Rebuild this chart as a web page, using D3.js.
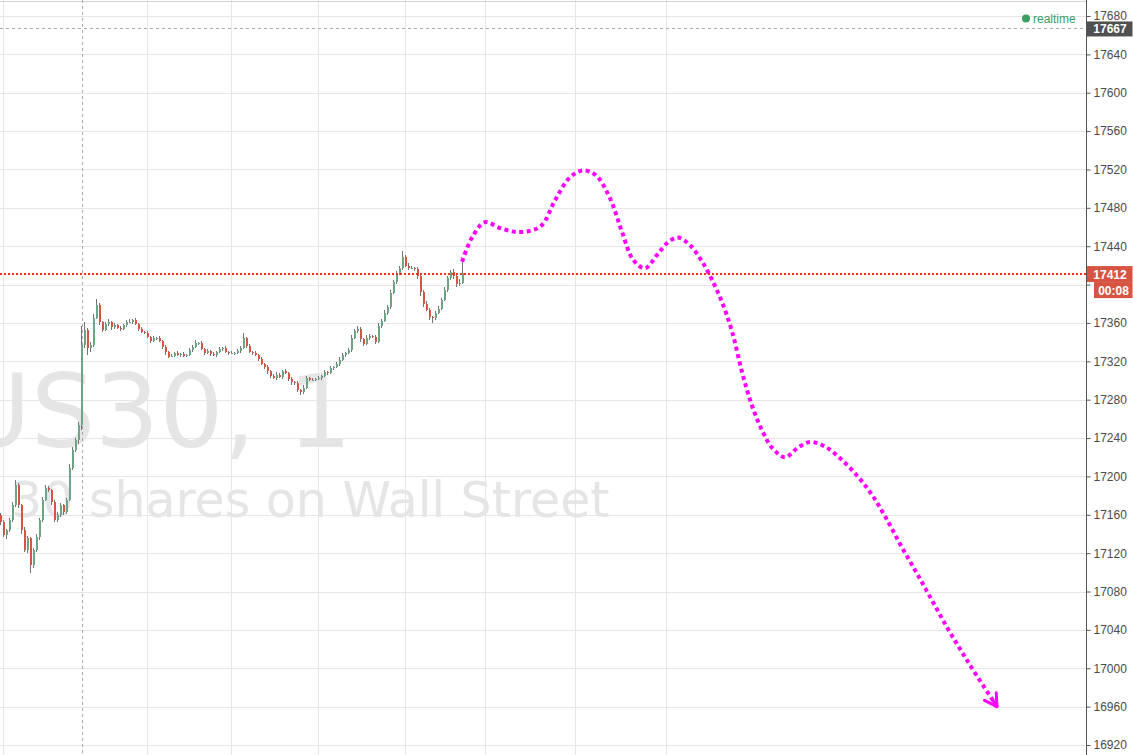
<!DOCTYPE html>
<html><head><meta charset="utf-8">
<script src="https://cdn.jsdelivr.net/npm/d3@7"></script>
<style>html,body{margin:0;padding:0;background:#fff;overflow:hidden}</style>
</head><body><svg id="c" width="1133" height="755"></svg>
<script>
// ---- data ----
const priceTicks = [17680,17640,17600,17560,17520,17480,17440,17400,17360,17320,17280,17240,17200,17160,17120,17080,17040,17000,16960,16920];
const firstOpen = 17160;
const closes = [
17152,17139,17144,17155,17170,17191,17170,17144,17123,17136,
17108,17123,17137,17155,17175,17188,17186,17173,17155,17160,
17170,17163,17175,17209,17228,17238,17254,17337,17353,17334,
17337,17365,17379,17361,17353,17359,17361,17356,17358,17355,
17354,17358,17361,17361,17363,17359,17354,17351,17350,17345,
17341,17344,17344,17341,17335,17330,17325,17326,17329,17327,
17328,17326,17327,17332,17335,17339,17339,17333,17329,17331,
17328,17327,17330,17333,17334,17330,17329,17329,17329,17331,
17334,17344,17336,17330,17329,17327,17322,17317,17314,17310,
17305,17303,17306,17304,17310,17308,17302,17298,17297,17290,
17288,17292,17303,17301,17301,17302,17303,17305,17309,17308,
17313,17314,17317,17321,17327,17329,17332,17344,17352,17354,
17343,17338,17344,17346,17345,17340,17357,17362,17370,17377,
17391,17403,17411,17417,17429,17419,17417,17417,17416,17409,
17392,17380,17374,17366,17365,17370,17375,17384,17394,17407,
17413,17409,17401,17402,17412];
const wickUp = [
2,3,1,2,3,5,2,1,3,2,
1,2,3,2,4,3,2,1,2,3,
2,1,3,4,3,2,3,20,8,2,
3,4,6,2,1,2,3,1,2,1,
2,1,2,3,1,2,1,2,1,2,
1,2,1,2,1,2,1,2,1,2,
1,2,1,2,2,3,1,2,1,2,
1,2,1,2,1,2,1,2,1,2,
2,6,1,2,1,2,1,2,1,2,
1,2,3,2,1,2,1,2,1,2,
1,3,2,1,2,1,2,1,2,1,
2,1,2,3,2,1,2,3,2,3,
2,1,3,2,1,2,3,2,3,2,
3,2,3,2,6,2,3,2,1,2,
1,2,3,2,1,2,3,2,3,2,
2,3,2,4,14];
const wickDown = [
3,2,4,2,3,2,3,4,2,3,
9,3,2,3,2,1,2,3,2,3,
2,3,2,1,2,3,4,6,3,7,
4,2,1,3,2,1,2,3,2,1,
2,1,2,1,2,1,2,1,2,1,
2,1,2,1,2,3,2,1,2,1,
2,1,2,1,2,1,2,1,2,1,
2,1,2,1,2,1,2,1,2,1,
2,1,2,1,2,1,2,1,2,3,
2,1,2,1,2,1,2,3,2,2,
3,2,1,2,1,2,1,2,1,2,
1,2,1,2,1,2,1,2,1,2,
3,2,1,2,1,2,1,2,1,2,
2,1,2,1,2,1,2,1,2,3,
4,3,2,3,5,2,1,2,1,2,
2,3,4,2,1];
// forecast path (bar index, price)
const predIdx = [153.7,157,161.3,166.3,171.3,176.3,180.3,184.7,189.7,194,198.3,203,207,210.7,214.7,218.7,222.3,225.7,229.7,233.7,237,240.3,243.7,247,250.3,253.7,257,261.3,265.7,269.7,274.7,279.7,285.3,290.3,295.3,300.3,305.3,310.3,315.3,320.3,325.3,332];
const predPrice = [17424,17449,17465,17459,17455,17456,17462,17488,17512,17519,17514,17490,17455,17426,17417,17431,17444,17449,17441,17424,17405,17382,17351,17309,17274,17248,17230,17220,17230,17236,17231,17219,17201,17181,17155,17126,17099,17071,17043,17017,16992,16960];
const vGridIdx = [0.67,48.7,76.7,105.7,134.7,161.3,191.3,221.7];
const crossIdx = 27;
const crossPrice = 17667;
const lastPrice = 17412;
const countdown = "00:08";
const symbolText = "US30, 1";
const descText = "30 shares on Wall Street";

// ---- chart ----
const W = 1133, H = 755, axisX = 1086;
const svg = d3.select("#c");
const y = d3.scaleLinear().domain([16920, 17680]).range([745, 16]);
const x = d3.scaleLinear().domain([0, 361]).range([1, 1084]);

svg.append("rect").attr("width", W).attr("height", H).attr("fill", "#fff");

const grid = svg.append("g").attr("shape-rendering", "crispEdges");
grid.selectAll(".hg").data(priceTicks).join("line")
  .attr("x1", 0).attr("x2", axisX)
  .attr("y1", d => Math.round(y(d)) + 0.5).attr("y2", d => Math.round(y(d)) + 0.5)
  .attr("stroke", "#e6e6e6");
grid.selectAll(".vg").data(vGridIdx).join("line")
  .attr("x1", d => Math.round(x(d)) + 0.5).attr("x2", d => Math.round(x(d)) + 0.5)
  .attr("y1", 0).attr("y2", H)
  .attr("stroke", "#e6e6e6");
// top border
svg.append("line").attr("x1", 0).attr("x2", axisX).attr("y1", 1.5).attr("y2", 1.5)
  .attr("stroke", "#d2d2da").attr("shape-rendering", "crispEdges");

// watermark
svg.append("text").attr("x", -43).attr("y", 447).text(symbolText)
  .attr("font-family", "DejaVu Sans").attr("font-size", 101).attr("fill", "#e5e5e5");
svg.append("text").attr("x", 11).attr("y", 517).text(descText)
  .attr("font-family", "DejaVu Sans").attr("font-size", 49).attr("fill", "#e5e5e5");

// crosshair dashed lines
svg.append("line").attr("x1", Math.round(x(crossIdx)) + 0.5).attr("x2", Math.round(x(crossIdx)) + 0.5)
  .attr("y1", 0).attr("y2", H).attr("stroke", "#a8a8a8").attr("stroke-dasharray", "3,3")
  .attr("shape-rendering", "crispEdges");
svg.append("line").attr("x1", 0).attr("x2", axisX)
  .attr("y1", Math.round(y(crossPrice)) + 0.5).attr("y2", Math.round(y(crossPrice)) + 0.5)
  .attr("stroke", "#a8a8a8").attr("stroke-dasharray", "3,3").attr("shape-rendering", "crispEdges");

// candles
const candles = closes.map((c, i) => {
  const o = i === 0 ? firstOpen : closes[i - 1];
  return {i, o, c, h: Math.max(o, c) + wickUp[i], l: Math.min(o, c) - wickDown[i]};
});
const cg = svg.append("g").attr("shape-rendering", "crispEdges");
cg.selectAll(".w").data(candles).join("line")
  .attr("x1", d => Math.round(x(d.i)) - 0.5).attr("x2", d => Math.round(x(d.i)) - 0.5)
  .attr("y1", d => y(d.h)).attr("y2", d => y(d.l))
  .attr("stroke", "#737375");
cg.selectAll(".b").data(candles).join("rect")
  .attr("x", d => Math.round(x(d.i)) - 1).attr("width", 2)
  .attr("y", d => y(Math.max(d.o, d.c)))
  .attr("height", d => Math.max(1, Math.abs(y(d.o) - y(d.c))))
  .attr("fill", d => d.c >= d.o ? "#6ba583" : "#d75442");

// last price line (red dotted)
const lpY = Math.round(y(lastPrice));
const lpg = svg.append("g").attr("shape-rendering", "crispEdges");
lpg.selectAll("rect").data(d3.range(0, axisX, 4)).join("rect")
  .attr("x", d => d).attr("y", lpY).attr("width", 2).attr("height", 1.5)
  .attr("fill", "#f0301c");

// forecast
const pts = predIdx.map((d, k) => [x(d), y(predPrice[k])]);
svg.append("path").attr("d", d3.line().curve(d3.curveCatmullRom.alpha(0.5))(pts))
  .attr("fill", "none").attr("stroke", "#ff00ff").attr("stroke-width", 4)
  .attr("stroke-dasharray", "4,3.5");
const pA = pts[pts.length - 2], pB = pts[pts.length - 1];
const ang = Math.atan2(pB[1] - pA[1], pB[0] - pA[0]);
[Math.PI - Math.PI / 6, Math.PI + Math.PI / 6].forEach(a => {
  svg.append("line").attr("x1", pB[0]).attr("y1", pB[1])
    .attr("x2", pB[0] + 14 * Math.cos(ang + a)).attr("y2", pB[1] + 14 * Math.sin(ang + a))
    .attr("stroke", "#ff00ff").attr("stroke-width", 3).attr("stroke-linecap", "round");
});
svg.append("line").attr("x1", pB[0] - 10 * Math.cos(ang)).attr("y1", pB[1] - 10 * Math.sin(ang))
  .attr("x2", pB[0]).attr("y2", pB[1]).attr("stroke", "#ff00ff").attr("stroke-width", 3);

// right axis
svg.append("rect").attr("x", axisX).attr("y", 0).attr("width", W - axisX).attr("height", H).attr("fill", "#fff");
// labels hidden behind the last-price badges are not drawn
const hiddenNear = v => Math.abs(y(v) - y(lastPrice)) < 14;
const axis = d3.axisRight(y).tickValues(priceTicks).tickSize(4).tickPadding(3)
  .tickFormat(d => hiddenNear(d) ? "" : d3.format("d")(d));
const ag = svg.append("g").attr("transform", `translate(${axisX + 0.5},0)`).call(axis);
ag.select(".domain").attr("stroke", "#555").attr("d", `M0,0V${H}`);
ag.selectAll(".tick line").attr("stroke", "#555");
ag.selectAll(".tick text").attr("fill", "#4a4a4a").attr("font-family", "Liberation Sans, Arial, sans-serif").attr("font-size", 12);

// realtime marker
svg.append("circle").attr("cx", 1026).attr("cy", 18.5).attr("r", 4).attr("fill", "#3a9e62");
svg.append("text").attr("x", 1033).attr("y", 23).text("realtime")
  .attr("font-family", "Liberation Sans, Arial, sans-serif").attr("font-size", 12).attr("fill", "#3a9e62");

// price labels
function label(fill, txt, x0, yc, h) {
  svg.append("rect").attr("x", x0).attr("y", yc - h / 2).attr("width", W - x0 - 0.5).attr("height", h).attr("fill", fill);
  svg.append("text").attr("x", x0 + (W - x0) / 2).attr("y", yc + 4.5).text(txt)
    .attr("text-anchor", "middle").attr("fill", "#fff").attr("font-weight", "bold")
    .attr("font-family", "Liberation Sans, Arial, sans-serif").attr("font-size", 12);
}
label("#505050", String(crossPrice), axisX + 1, y(crossPrice) + 0.5, 15);
label("#d75442", String(lastPrice), axisX + 1, y(lastPrice) + 1, 16);
label("#d75442", countdown, 1094, y(lastPrice) + 17, 16);
</script></body></html>
